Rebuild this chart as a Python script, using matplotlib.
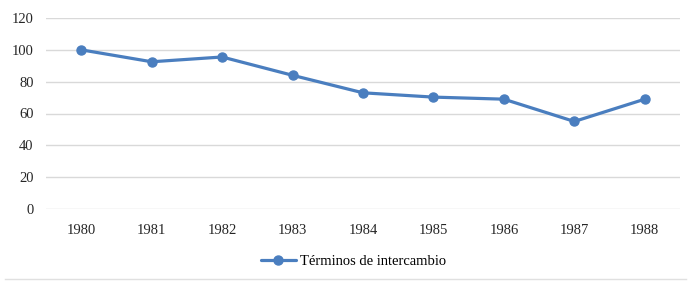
import matplotlib.pyplot as plt
from matplotlib.lines import Line2D

years = ["1980", "1981", "1982", "1983", "1984", "1985", "1986", "1987", "1988"]
terminos = [100, 92.5, 95.5, 84, 73, 70.3, 69, 55, 69]

plt.rcParams['font.family'] = ['Liberation Serif', 'DejaVu Serif']
blue = '#4a7ebf'

fig = plt.figure(figsize=(6.91, 2.82), dpi=100)
ax = fig.add_axes([46/691, 1-209/282, (680-46)/691, (209-18)/282])

x = range(len(years))
ax.plot(x, terminos, color=blue, lw=2.3, marker='o', ms=6.5, solid_capstyle='round',
        label='Términos de intercambio', zorder=3)

ax.set_xlim(-0.5, len(years)-0.5)
ax.set_ylim(0, 120)
ax.set_yticks(range(0, 121, 20))
ax.set_xticks(list(x))
ax.set_xticklabels(years)
ax.grid(axis='y', color='#d9d9d9', lw=1)
ax.set_axisbelow(True)
for s in ax.spines.values():
    s.set_visible(False)
ax.tick_params(length=0, labelsize=10.5, colors='#262626')
ax.tick_params(axis='y', pad=9)
ax.tick_params(axis='x', pad=11)

ax.legend(loc='upper center', bbox_to_anchor=(0.485, -0.17), frameon=False,
          fontsize=10.5, handlelength=2.4, handletextpad=0.3)

fig.add_artist(Line2D([5/691, 686/691], [1-279/282]*2, color='#e0e0e0', lw=1))

fig.savefig('out.png', dpi=100)
